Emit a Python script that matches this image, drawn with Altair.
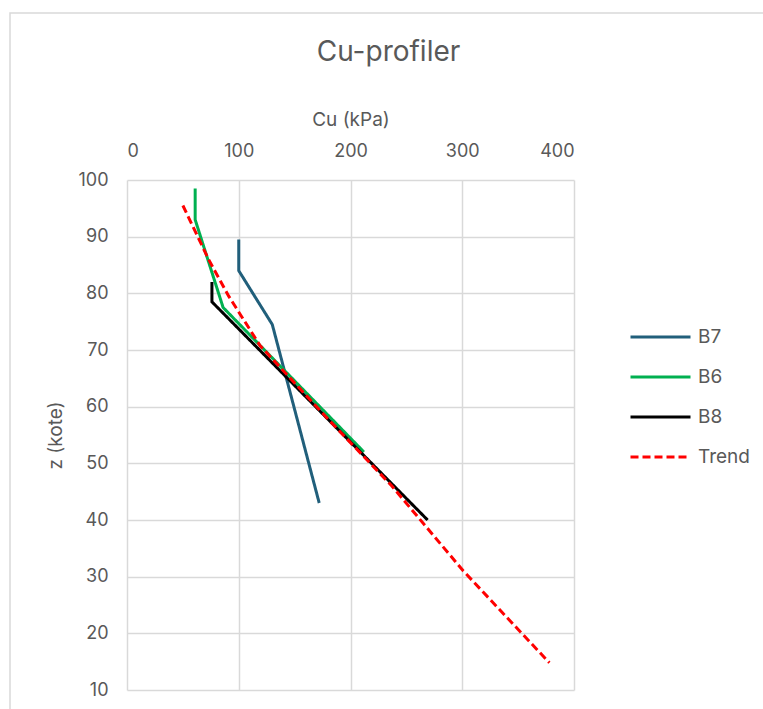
import altair as alt
import pandas as pd

series_names = ["B7", "B6", "B8", "Trend"]
series_colors = ["#215f7b", "#00b050", "#000000", "#ff0000"]

b7_cu = [100, 100, 130, 172]
b7_z = [89.5, 84, 74.5, 43]
b6_cu = [61, 61, 86, 212]
b6_z = [98.5, 93, 77.5, 52]
b8_cu = [76, 76, 269]
b8_z = [82, 78.5, 40]
trend_cu = [50, 73, 91, 119, 179, 237, 301, 378]
trend_z = [95.5, 86, 79.5, 70.8, 58, 46, 31, 14.8]

x_ticks = [0, 100, 200, 300, 400]
y_ticks = [10, 20, 30, 40, 50, 60, 70, 80, 90, 100]

rows = []
for name, cus, zs in [("B7", b7_cu, b7_z), ("B6", b6_cu, b6_z),
                      ("B8", b8_cu, b8_z), ("Trend", trend_cu, trend_z)]:
    for i, (c, z) in enumerate(zip(cus, zs)):
        rows.append({"serie": name, "cu": c, "z": z, "idx": i})
df = pd.DataFrame(rows)

W, H = 447, 510
LEFT, TOP = 127, 180
TXT = "#595959"
FONT = "Inter"

lines = alt.Chart(df).mark_line(strokeWidth=3, strokeCap="butt").encode(
    x=alt.X("cu:Q", scale=alt.Scale(domain=[0, 400], nice=False),
            axis=alt.Axis(orient="top", values=x_ticks, title="Cu (kPa)",
                          titleY=-61, titleBaseline="middle",
                          labelPadding=20, ticks=False, tickSize=0, domain=False,
                          grid=True, gridColor="#d9d9d9", gridWidth=1.5)),
    y=alt.Y("z:Q", scale=alt.Scale(domain=[10, 100], nice=False),
            axis=alt.Axis(values=y_ticks, title="z (kote)",
                          titleX=-72, titleY=H / 2, titleBaseline="middle",
                          labelPadding=19, ticks=False, tickSize=0, domain=False,
                          grid=True, gridColor="#d9d9d9", gridWidth=1.5)),
    color=alt.Color("serie:N", scale=alt.Scale(domain=series_names, range=series_colors),
                    legend=alt.Legend(title=None)),
    strokeDash=alt.StrokeDash("serie:N",
                              scale=alt.Scale(domain=series_names,
                                              range=[[1, 0], [1, 0], [1, 0], [8, 4]]),
                              legend=alt.Legend(title=None)),
    order="idx:Q",
)

frame_df = pd.DataFrame({"k": [0]})
frame = alt.Chart(frame_df).mark_rect(fill=None, stroke="#d9d9d9", strokeWidth=1.5).encode(
    x=alt.value(10 - LEFT), x2=alt.value(800 - LEFT),
    y=alt.value(13 - TOP), y2=alt.value(800 - TOP),
)

chart = alt.layer(frame, lines).properties(
    width=W, height=H,
    padding={"left": LEFT, "top": TOP, "right": 763 - LEFT - W, "bottom": 709 - TOP - H},
    autosize=alt.AutoSizeParams(type="none"),
    title=alt.TitleParams("Cu-profiler", fontSize=28, font=FONT, fontWeight="normal",
                          color=TXT, anchor="middle", dx=38, offset=-55),
).configure_view(stroke=None).configure_axis(
    labelFont=FONT, labelFontSize=18, labelColor=TXT,
    titleFont=FONT, titleFontSize=19, titleColor=TXT, titleFontWeight="normal",
).configure_legend(
    orient="none", legendX=502, legendY=137,
    symbolType="stroke", symbolSize=3600, symbolStrokeWidth=3,
    labelFont=FONT, labelFontSize=19, labelColor=TXT, labelOffset=6,
    clipHeight=40, rowPadding=0,
)

chart.save("out.html", embed_options={"renderer": "svg", "actions": False})
